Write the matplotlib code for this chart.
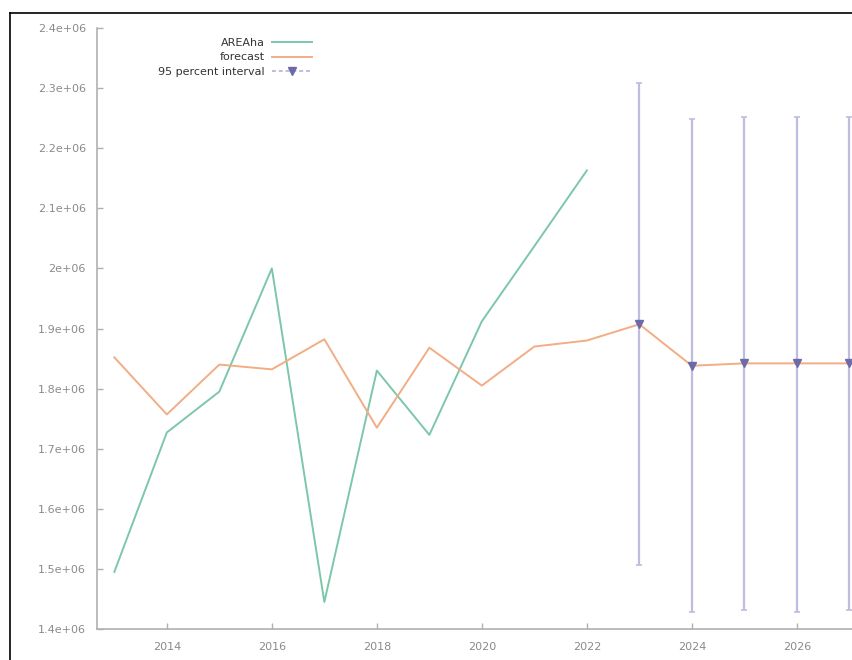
import matplotlib
matplotlib.use("Agg")
import matplotlib.pyplot as plt
from matplotlib.lines import Line2D
from matplotlib.ticker import FuncFormatter
import numpy as np

# Observed series
years_obs = [2013, 2014, 2015, 2016, 2017, 2018, 2019, 2020, 2021, 2022]
area_ha = [1.495e6, 1.727e6, 1.795e6, 2.0e6, 1.445e6, 1.830e6, 1.723e6, 1.912e6, 2.037e6, 2.163e6]

# Fitted values and out-of-sample forecast
years_fc = [2013, 2014, 2015, 2016, 2017, 2018, 2019, 2020, 2021, 2022,
            2023, 2024, 2025, 2026, 2027]
forecast = [1.852e6, 1.757e6, 1.840e6, 1.832e6, 1.882e6, 1.735e6, 1.868e6, 1.805e6,
            1.870e6, 1.880e6, 1.907e6, 1.838e6, 1.842e6, 1.842e6, 1.842e6]

# 95 percent interval for the out-of-sample periods
years_int = [2023, 2024, 2025, 2026, 2027]
int_center = [1.907e6, 1.838e6, 1.842e6, 1.842e6, 1.842e6]
int_low = [1.506e6, 1.428e6, 1.432e6, 1.429e6, 1.432e6]
int_high = [2.308e6, 2.248e6, 2.252e6, 2.252e6, 2.252e6]

c_green = "#7cc7aa"
c_orange = "#f2ad85"
c_bar = "#bcbde0"
c_mark = "#6c6aa8"
c_axis = "#b0b0b0"
c_text = "#8a8a8a"

fig = plt.figure(figsize=(8.52, 6.60), dpi=100)
ax = fig.add_axes([97 / 852, 1 - 629 / 660, 1 - 97 / 852, (629 - 28) / 660])

ax.plot(years_obs, area_ha, color=c_green, lw=1.4, zorder=3)
ax.plot(years_fc, forecast, color=c_orange, lw=1.4, zorder=3)

center = np.array(int_center)
yerr = [center - np.array(int_low), np.array(int_high) - center]
ax.errorbar(years_int, int_center, yerr=yerr, fmt="v", color=c_bar, ecolor=c_bar,
            elinewidth=1.6, capsize=2.5, capthick=1.2, markersize=6,
            markerfacecolor=c_mark, markeredgecolor=c_mark, zorder=4)

ax.set_xlim(2012.67, 2027.05)
ax.set_ylim(1.4e6, 2.4e6)
ax.set_xticks([2014, 2016, 2018, 2020, 2022, 2024, 2026])
ax.set_yticks(np.arange(1.4e6, 2.41e6, 1e5))
ax.yaxis.set_major_formatter(FuncFormatter(lambda v, p: ("%.1e" % v).replace(".0e", "e")))

for side in ("top", "right"):
    ax.spines[side].set_visible(False)
for side in ("left", "bottom"):
    ax.spines[side].set_color(c_axis)
    ax.spines[side].set_linewidth(1.2)

ax.tick_params(axis="both", direction="in", length=4, width=1, color=c_axis,
               labelcolor=c_text, labelsize=8)
ax.tick_params(axis="y", pad=8)
ax.tick_params(axis="x", pad=9)

handles = [
    Line2D([], [], color=c_green, lw=1.4),
    Line2D([], [], color=c_orange, lw=1.4),
    Line2D([], [], color=c_bar, lw=1.4, ls=(0, (2, 1.5)), marker="v", markersize=6,
           markerfacecolor=c_mark, markeredgecolor=c_mark),
]
labels = ["AREAha", "forecast", "95 percent interval"]
leg = ax.legend(handles, labels, loc="upper left", bbox_to_anchor=(0.068, 1.0),
                frameon=False, markerfirst=False, fontsize=8, handlelength=3.6,
                labelspacing=0.4, handletextpad=0.6)
for t in leg.get_texts():
    t.set_ha("right")
    t.set_color("#333333")

# Outer frame line along the left and top edges
fig.add_artist(Line2D([10 / 852, 10 / 852], [0, 1 - 13 / 660], color="black", lw=1.2,
                      transform=fig.transFigure))
fig.add_artist(Line2D([10 / 852, 1], [1 - 13 / 660, 1 - 13 / 660], color="black", lw=1.2,
                      transform=fig.transFigure))

fig.savefig("out.png", dpi=100)
